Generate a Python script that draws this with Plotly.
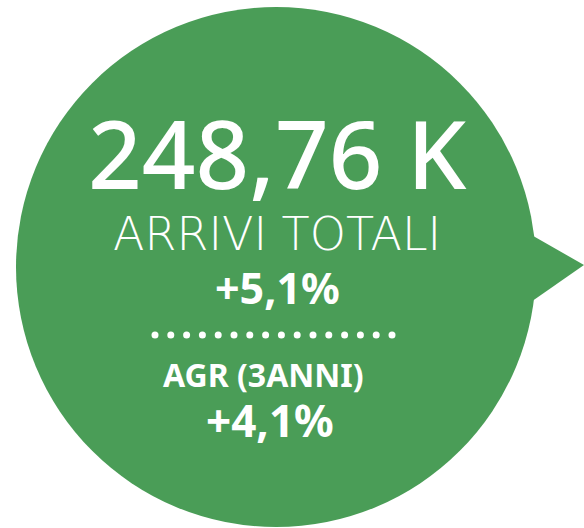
import numpy as np
import plotly.graph_objects as go

# ---- content ----
headline_value = "248,76 K"
headline_label = "ARRIVI TOTALI"
yoy_change = "+5,1%"
cagr_label = "AGR (3ANNI)"
cagr_change = "+4,1%"
separator_dots = 16

GREEN = "#4A9D57"
W, H = 584, 528

fig = go.Figure()

# bubble body and pointer
fig.add_shape(type="circle", xref="x", yref="y", x0=16, x1=536, y0=7, y1=527,
              fillcolor=GREEN, line=dict(width=0), layer="below")
fig.add_shape(type="path", xref="x", yref="y",
              path="M 528 233 L 584 265 L 528 304 Z",
              fillcolor=GREEN, line=dict(width=0), layer="below")

# dotted separator
dx = np.linspace(155, 392, separator_dots)
fig.add_trace(go.Scatter(x=dx, y=[335] * separator_dots, mode="markers",
                         marker=dict(color="white", size=7, line=dict(width=0)),
                         hoverinfo="skip", showlegend=False))

def txt(s, x, y, size, weight, family="Noto Sans"):
    fig.add_annotation(x=x, y=y, xref="x", yref="y", text=s, showarrow=False,
                       xanchor="center", yanchor="middle",
                       font=dict(family=family, size=size, color="white", weight=weight))

txt(headline_value, 277, 153, 94, 500)
txt(headline_label, 277, 234, 46, 200, "DejaVu Sans")
txt(yoy_change, 277, 287, 43, 700)
txt(cagr_label, 263, 374, 32, 700)
txt(cagr_change, 270, 420, 44, 700)

fig.update_layout(width=W, height=H, margin=dict(l=0, r=0, t=0, b=0),
                  paper_bgcolor="white", plot_bgcolor="white",
                  xaxis=dict(range=[0, W], visible=False, fixedrange=True),
                  yaxis=dict(range=[H, 0], visible=False, fixedrange=True),
                  showlegend=False)

fig.write_html("out.html", config={"displayModeBar": False},
               post_script="document.body.style.margin='0';document.body.style.overflow='hidden';")
